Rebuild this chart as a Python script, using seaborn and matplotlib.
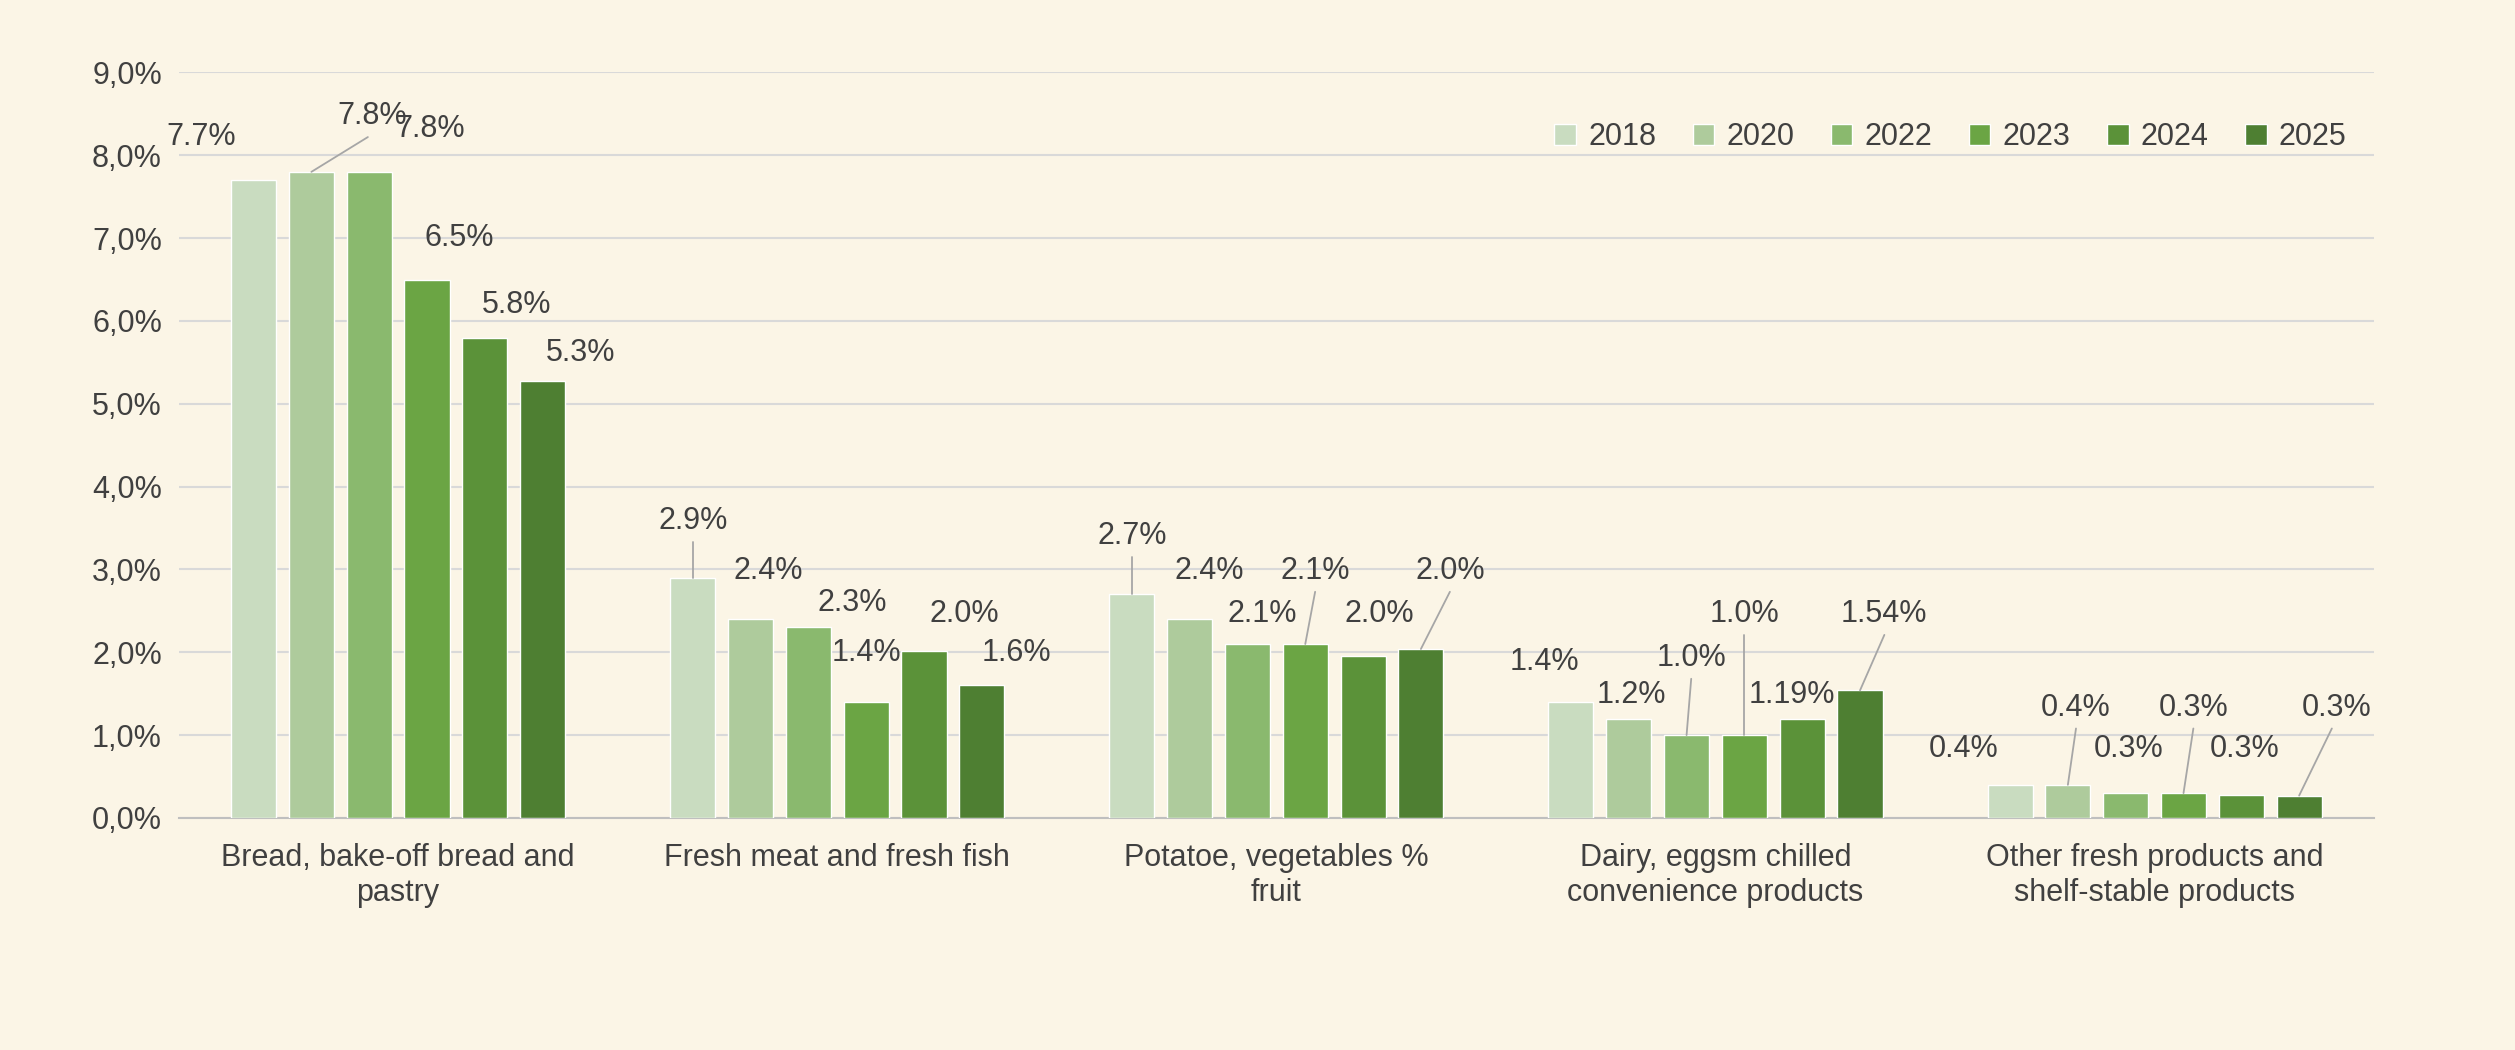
import pandas as pd
import matplotlib
matplotlib.use('Agg')
import matplotlib.pyplot as plt
import seaborn as sns

# Daten
categories = ['Bread, bake-off bread and\npastry', 'Fresh meat and fresh fish',
              'Potatoe, vegetables %\nfruit', 'Dairy, eggsm chilled\nconvenience products',
              'Other fresh products and\nshelf-stable products']
years = ['2018', '2020', '2022', '2023', '2024', '2025']
values = {
    '2018': [7.7, 2.9, 2.7, 1.4, 0.4],
    '2020': [7.8, 2.4, 2.4, 1.2, 0.4],
    '2022': [7.8, 2.3, 2.1, 1.0, 0.3],
    '2023': [6.5, 1.4, 2.1, 1.0, 0.3],
    '2024': [5.8, 2.02, 1.96, 1.19, 0.28],
    '2025': [5.27, 1.6, 2.04, 1.54, 0.27],
}
labels = {
    '2018': ['7.7%', '2.9%', '2.7%', '1.4%', '0.4%'],
    '2020': ['7.8%', '2.4%', '2.4%', '1.2%', '0.4%'],
    '2022': ['7.8%', '2.3%', '2.1%', '1.0%', '0.3%'],
    '2023': ['6.5%', '1.4%', '2.1%', '1.0%', '0.3%'],
    '2024': ['5.8%', '2.0%', '2.0%', '1.19%', '0.3%'],
    '2025': ['5.3%', '1.6%', '2.0%', '1.54%', '0.3%'],
}
colors = ['#C9DCC0', '#AECB9C', '#8AB96E', '#6BA544', '#5B9239', '#4E7F32']

# Label-Positionen: (dx in Balkenbreiten, y in %, Führungslinie)
label_pos = {
    '2018': [(-0.9, 8.22, 0), (0, 3.58, 1), (0, 3.40, 1), (-0.45, 1.88, 0), (-0.8, 0.83, 0)],
    '2020': [(1.05, 8.47, 1), (0.3, 2.98, 0), (0.33, 2.98, 0), (0.05, 1.49, 0), (0.14, 1.33, 1)],
    '2022': [(1.05, 8.32, 0), (0.75, 2.59, 0), (0.25, 2.46, 0), (0.08, 1.93, 1), (0.05, 0.83, 0)],
    '2023': [(0.55, 7.0, 0), (0, 1.99, 0), (0.17, 2.98, 1), (0, 2.46, 1), (0.17, 1.33, 1)],
    '2024': [(0.55, 6.19, 0), (0.7, 2.46, 0), (0.28, 2.46, 0), (-0.17, 1.49, 0), (0.05, 0.83, 0)],
    '2025': [(0.65, 5.61, 0), (0.6, 1.99, 0), (0.5, 2.98, 1), (0.42, 2.46, 1), (0.64, 1.33, 1)],
}

rows = []
for y in years:
    for c, v in zip(categories, values[y]):
        rows.append({'cat': c, 'year': y, 'val': v})
df = pd.DataFrame(rows)

bg = '#FBF5E6'
sns.set_style('white')
plt.rcParams['font.family'] = ['Liberation Sans', 'DejaVu Sans']
fig = plt.figure(figsize=(25.15, 10.5), dpi=100, facecolor=bg)
ax = fig.add_axes([0.071, 0.221, 0.873, 0.71])
ax.set_facecolor(bg)

sns.barplot(data=df, x='cat', y='val', hue='year', palette=colors, ax=ax,
            width=0.79, gap=0.22, saturation=1, zorder=3)

ax.set_ylim(0, 9)
ax.set_xlim(-0.5, 4.5)
ax.set_yticks(range(10))
ax.set_yticklabels([f'{i},0%' for i in range(10)])
ax.grid(axis='y', color='#D9D9D9', lw=1.5, zorder=0)
for s in ['top', 'right', 'left']:
    ax.spines[s].set_visible(False)
ax.spines['bottom'].set_color('#BFBFBF')
ax.spines['bottom'].set_linewidth(1.5)
ax.tick_params(axis='both', length=0, labelsize=22, colors='#404040', pad=12)
ax.tick_params(axis='x', pad=18)
ax.set_xlabel('')
ax.set_ylabel('')

for i, y in enumerate(years):
    for j, bar in enumerate(ax.containers[i]):
        cx = bar.get_x() + bar.get_width() / 2
        top = bar.get_height()
        dx, ly, lead = label_pos[y][j]
        lx = cx + dx * 0.132
        ax.text(lx, ly, labels[y][j], ha='center', va='center', fontsize=22,
                color='#404040', zorder=5)
        if lead:
            ax.plot([lx - 0.01 if dx > 0.5 else lx, cx], [ly - 0.25, top],
                    color='#A6A6A6', lw=1.3, zorder=4)

leg = ax.legend(loc='upper right', bbox_to_anchor=(1.0, 0.97), ncol=6, frameon=False,
                fontsize=22, handlelength=0.7, handleheight=0.7, columnspacing=1.2,
                handletextpad=0.4)
for t in leg.get_texts():
    t.set_color('#404040')

fig.savefig('out.png', dpi=100, facecolor=bg)
